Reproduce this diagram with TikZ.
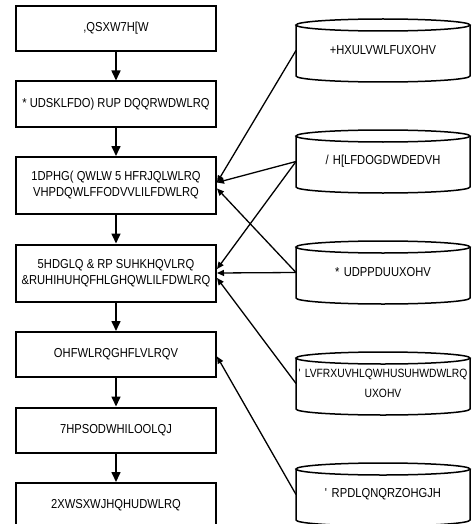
\documentclass[tikz,border=0pt]{standalone}
\usepackage{fontspec}
\setmainfont{Liberation Sans}[FakeStretch=0.86]
\usetikzlibrary{arrows.meta,positioning}

\begin{document}
\begin{tikzpicture}[
  x=1pt, y=1pt,
  font=\fontsize{13}{16}\selectfont,
  stage/.style={draw, line width=2pt, align=center, minimum width=200pt,
                minimum height=45pt, inner sep=2pt},
  tall/.style={stage, minimum height=57pt},
  store/.style={align=center, text width=170pt, minimum height=51pt,
                inner sep=2pt, outer sep=0pt},
  flow/.style={-{Triangle[length=10pt,width=9pt]}, line width=1.6pt},
  feed/.style={-{Triangle[length=7pt,width=6pt]}, line width=1.3pt},
  rim/.style={line width=1.5pt}
]
\useasboundingbox (0,0) rectangle (471,-524);
% processing stages
\node[stage] (inp) at (116,-28.5) {,QSXW7H[W};
\node[stage, below=28.5pt of inp] (gfa) {* UDSKLFDO) RUP DQQRWDWLRQ};
\node[tall, below=28.5pt of gfa] (ner) {1DPHG( QWLW 5 HFRJQLWLRQ\\VHPDQWLFFODVVLILFDWLRQ};
\node[tall, below=28.5pt of ner] (rc) {5HDGLQ \& RP SUHKHQVLRQ\\\&RUHIHUHQFHLGHQWLILFDWLRQ};
\node[stage, below=28.5pt of rc] (sel) {OHFWLRQGHFLVLRQV};
\node[stage, below=28.5pt of sel] (tf) {7HPSODWHILOOLQJ};
\node[stage, below=28.5pt of tf] (og) {2XWSXWJHQHUDWLRQ};
\draw[flow] (inp) -- (gfa);
\draw[flow] (gfa) -- (ner);
\draw[flow] (ner) -- (rc);
\draw[flow] (rc) -- (sel);
\draw[flow] (sel) -- (tf);
\draw[flow] (tf) -- (og);
% knowledge sources
\node[store] (heur) at (383,-50.5) {+HXULVWLFUXOHV};
\node[store, below=60pt of heur] (lex) {/ H[LFDOGDWDEDVH};
\node[store, below=60pt of lex] (gram) {* UDPPDUUXOHV};
\node[store, below=60pt of gram, font=\fontsize{12}{20}\selectfont] (disc)
  {\makebox[\linewidth][c]{\textquotesingle~LVFRXUVHLQWHUSUHWDWLRQ}\\UXOHV};
\node[store, below=60pt of disc] (dom) {\textquotesingle\ RPDLQNQRZOHGJH};
\foreach \s in {heur,lex,gram,disc,dom}{
  \draw[rim] ([shift={(-87,25.5)}]\s.center) -- ++(0,-51)
    arc[start angle=180, end angle=360, x radius=87pt, y radius=6pt] -- ++(0,51);
  \draw[rim] ([yshift=25.5pt]\s.center) ellipse[x radius=87pt, y radius=6pt];
}
\draw[feed] (heur.west) -- ([yshift=3pt]ner.east);
\draw[feed] (lex.west) -- ([yshift=3pt]ner.east);
\draw[feed] (gram.west) -- ([yshift=-3pt]ner.east);
\draw[feed] (lex.west) -- ([yshift=4pt]rc.east);
\draw[feed] (gram.west) -- (rc.east);
\draw[feed] (disc.west) -- ([yshift=-5pt]rc.east);
\draw[feed] (dom.west) -- ([yshift=-2pt]sel.east);
\end{tikzpicture}
\end{document}
